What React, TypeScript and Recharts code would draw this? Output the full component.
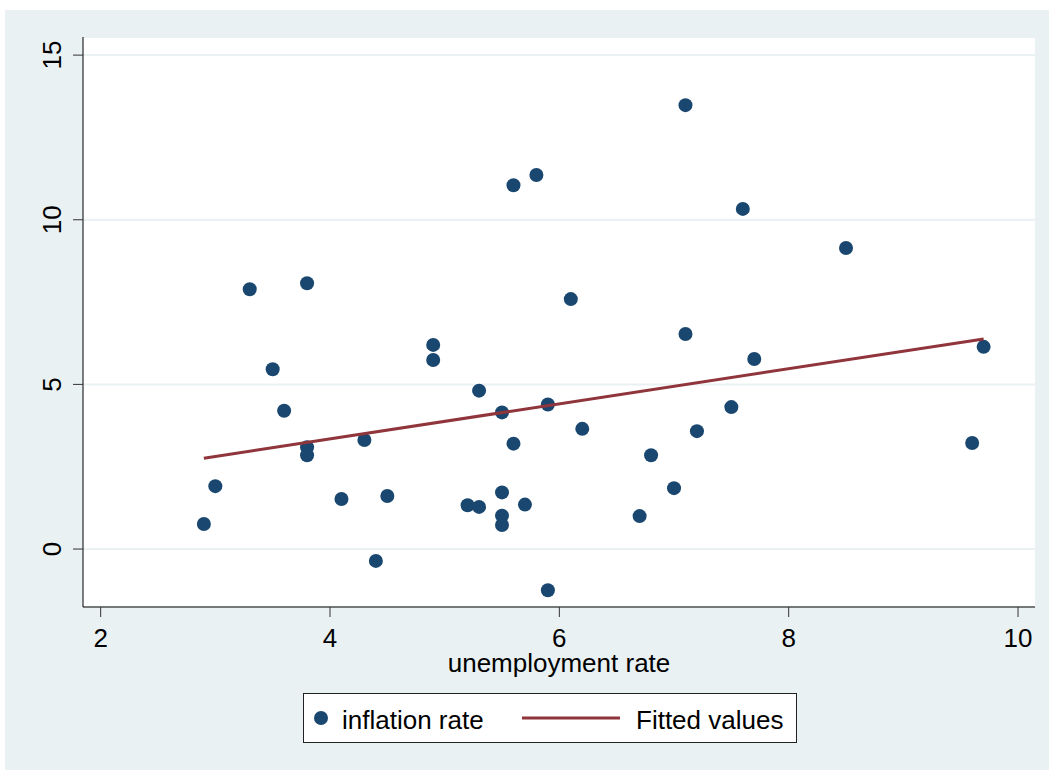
import React from 'react';
import { ScatterChart, Scatter, XAxis, YAxis, CartesianGrid, Legend } from 'recharts';

// unemployment rate (x) and inflation rate (y)
const unemployment = [
  2.9, 3.0, 3.3, 3.5, 3.6, 3.8, 3.8, 3.8, 4.1, 4.3, 4.4, 4.5, 4.9, 4.9,
  5.2, 5.3, 5.3, 5.5, 5.5, 5.5, 5.5, 5.6, 5.6, 5.7, 5.8, 5.9, 5.9, 6.1,
  6.2, 6.7, 6.8, 7.0, 7.1, 7.1, 7.2, 7.5, 7.6, 7.7, 8.5, 9.6, 9.7,
];
const inflation = [
  0.76, 1.91, 7.89, 5.46, 4.2, 8.07, 3.09, 2.85, 1.52, 3.31, -0.36, 1.61, 6.2, 5.74,
  1.33, 4.81, 1.28, 4.15, 1.72, 1.01, 0.73, 11.05, 3.2, 1.35, 11.36, 4.39, -1.25, 7.59,
  3.65, 1.0, 2.85, 1.85, 13.48, 6.53, 3.58, 4.31, 10.33, 5.77, 9.14, 3.22, 6.14,
];

// fitted regression line endpoints
const fitX = [2.9, 9.7];
const fitY = [2.76, 6.38];

const xTicks = [2, 4, 6, 8, 10];
const yTicks = [0, 5, 10, 15];

const scatterName = 'inflation rate';
const fitName = 'Fitted values';
const xTitle = 'unemployment rate';

const NAVY = '#1a476f';
const MAROON = '#90353b';
const BG = '#e9f1f3';
const FONT = '"Liberation Sans", Arial, Helvetica, sans-serif';

const points = unemployment.map((u, i) => ({ x: u, y: inflation[i] }));
const fitted = fitX.map((x, i) => ({ x, y: fitY[i] }));

const Dot = (props: any) => {
  const { cx, cy } = props;
  if (cx == null || cy == null) return null;
  return <circle cx={cx} cy={cy} r={7} fill={NAVY} />;
};

const NoDot = () => <g />;

const YTick = (props: any) => {
  const { x, y, payload } = props;
  const cx = x - 18.5;
  return (
    <text
      x={cx}
      y={y}
      transform={`rotate(-90, ${cx}, ${y})`}
      textAnchor="middle"
      dominantBaseline="central"
      fontSize={26}
      fontFamily={FONT}
      fill="#000"
    >
      {payload.value}
    </text>
  );
};

const XTitle = (props: any) => {
  const vb = props.viewBox || { x: 83, y: 607, width: 952 };
  return (
    <text
      x={vb.x + vb.width / 2}
      y={vb.y + 65}
      textAnchor="middle"
      fontSize={26}
      fontFamily={FONT}
      fill="#000"
    >
      {xTitle}
    </text>
  );
};

const LegendBox = () => (
  <svg width={494} height={50} style={{ display: 'block' }}>
    <rect x={0.5} y={0.5} width={493} height={49} fill="#fff" stroke="#222" strokeWidth={1} />
    <circle cx={18} cy={25} r={7} fill={NAVY} />
    <text x={39} y={36} fontSize={26} fontFamily={FONT} fill="#000">
      {scatterName}
    </text>
    <line x1={219} y1={25} x2={317} y2={25} stroke={MAROON} strokeWidth={3} />
    <text x={333} y={36} fontSize={26} fontFamily={FONT} fill="#000">
      {fitName}
    </text>
  </svg>
);

export default function App() {
  return (
    <div style={{ position: 'absolute', left: 0, top: 0, width: 1049, height: 771, background: '#fff' }}>
      <div style={{ position: 'absolute', left: 5, top: 10, width: 1044, height: 760, background: BG }} />
      <div style={{ position: 'absolute', left: 0, top: 0 }}>
        <ScatterChart
          width={1049}
          height={771}
          margin={{ top: 37, right: 14, bottom: 94, left: 23 }}
          style={{ fontFamily: FONT }}
        >
          <CartesianGrid horizontal vertical={false} stroke={BG} strokeWidth={2} fill="#fff" />
          <XAxis
            type="number"
            dataKey="x"
            domain={[1.846, 10.148]}
            ticks={xTicks}
            allowDataOverflow
            height={70}
            tickSize={10}
            tickMargin={12}
            axisLine={{ stroke: '#000', strokeWidth: 1 }}
            tickLine={{ stroke: '#333', strokeWidth: 1 }}
            tick={{ fontSize: 26, fill: '#000', fontFamily: FONT }}
            label={<XTitle />}
          />
          <YAxis
            type="number"
            dataKey="y"
            domain={[-1.76, 15.55]}
            ticks={yTicks}
            allowDataOverflow
            width={60}
            tickSize={10}
            axisLine={{ stroke: '#000', strokeWidth: 1 }}
            tickLine={{ stroke: '#333', strokeWidth: 1 }}
            tick={<YTick />}
          />
          <Legend
            layout="horizontal"
            verticalAlign="middle"
            align="center"
            wrapperStyle={{ left: 303, top: 693, width: 494, height: 50 }}
            content={<LegendBox />}
          />
          <Scatter
            name={scatterName}
            data={points}
            fill={NAVY}
            shape={<Dot />}
            isAnimationActive={false}
          />
          <Scatter
            name={fitName}
            data={fitted}
            fill={MAROON}
            line={{ stroke: MAROON, strokeWidth: 3 }}
            shape={<NoDot />}
            isAnimationActive={false}
          />
        </ScatterChart>
      </div>
    </div>
  );
}
